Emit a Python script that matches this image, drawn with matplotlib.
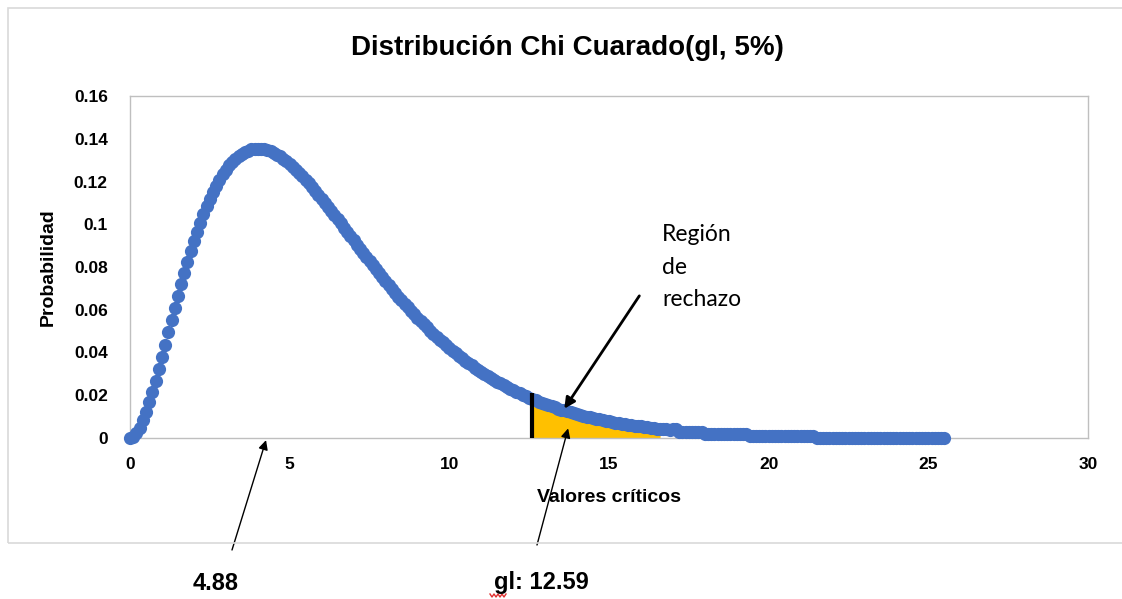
import numpy as np
import matplotlib
matplotlib.use("Agg")
import matplotlib.pyplot as plt
from matplotlib.patches import Rectangle
from matplotlib.lines import Line2D

# density, one point every 0.1 from x = 0 to x = 25.5
x_step = 0.1
prob = [
    0.0000, 0.0006, 0.0023, 0.0048, 0.0082, 0.0122, 0.0167, 0.0216, 0.0268, 0.0323,
    0.0379, 0.0436, 0.0494, 0.0551, 0.0608, 0.0664, 0.0719, 0.0772, 0.0823, 0.0873,
    0.0920, 0.0965, 0.1007, 0.1047, 0.1084, 0.1119, 0.1151, 0.1181, 0.1208, 0.1233,
    0.1255, 0.1275, 0.1292, 0.1307, 0.1320, 0.1330, 0.1339, 0.1345, 0.1350, 0.1352,
    0.1353, 0.1353, 0.1350, 0.1346, 0.1341, 0.1334, 0.1326, 0.1317, 0.1306, 0.1295,
    0.1283, 0.1269, 0.1255, 0.1240, 0.1225, 0.1209, 0.1192, 0.1175, 0.1157, 0.1139,
    0.1120, 0.1101, 0.1082, 0.1063, 0.1044, 0.1024, 0.1004, 0.0984, 0.0964, 0.0945,
    0.0925, 0.0905, 0.0885, 0.0866, 0.0846, 0.0827, 0.0808, 0.0789, 0.0770, 0.0751,
    0.0733, 0.0714, 0.0696, 0.0679, 0.0661, 0.0644, 0.0627, 0.0611, 0.0594, 0.0578,
    0.0562, 0.0547, 0.0532, 0.0517, 0.0502, 0.0488, 0.0474, 0.0460, 0.0447, 0.0434,
    0.0421, 0.0409, 0.0396, 0.0385, 0.0373, 0.0362, 0.0351, 0.0340, 0.0329, 0.0319,
    0.0309, 0.0299, 0.0290, 0.0281, 0.0272, 0.0263, 0.0255, 0.0246, 0.0238, 0.0231,
    0.0223, 0.0216, 0.0209, 0.0202, 0.0195, 0.0189, 0.0182, 0.0176, 0.0170, 0.0164,
    0.0159, 0.0153, 0.0148, 0.0143, 0.0138, 0.0133, 0.0129, 0.0124, 0.0120, 0.0116,
    0.0112, 0.0108, 0.0104, 0.0100, 0.0097, 0.0093, 0.0090, 0.0087, 0.0084, 0.0081,
    0.0078, 0.0075, 0.0072, 0.0070, 0.0067, 0.0065, 0.0062, 0.0060, 0.0058, 0.0056,
    0.0054, 0.0052, 0.0050, 0.0048, 0.0046, 0.0044, 0.0043, 0.0041, 0.0040, 0.0038,
    0.004, 0.004, 0.003, 0.003, 0.003, 0.003, 0.003, 0.003, 0.003, 0.003,
    0.002, 0.002, 0.002, 0.002, 0.002, 0.002, 0.002, 0.002, 0.002, 0.002,
    0.002, 0.002, 0.002, 0.002, 0.001, 0.001, 0.001, 0.001, 0.001, 0.001,
    0.001, 0.001, 0.001, 0.001, 0.001, 0.001, 0.001, 0.001, 0.001, 0.001,
    0.001, 0.001, 0.001, 0.001, 0.001, 0.000, 0.000, 0.000, 0.000, 0.000,
    0.000, 0.000, 0.000, 0.000, 0.000, 0.000, 0.000, 0.000, 0.000, 0.000,
    0.000, 0.000, 0.000, 0.000, 0.000, 0.000, 0.000, 0.000, 0.000, 0.000,
    0.000, 0.000, 0.000, 0.000, 0.000, 0.000, 0.000, 0.000, 0.000, 0.000,
    0.000, 0.000, 0.000, 0.000, 0.000, 0.000,
]

crit_value = 12.59       # gl: 12.59
crit_height = 0.021
shade_end = 16.6
mode_label = "4.88"
crit_label = "gl: 12.59"

x_ticks = [0, 5, 10, 15, 20, 25, 30]
y_ticks = [0, 0.02, 0.04, 0.06, 0.08, 0.1, 0.12, 0.14, 0.16]
y_tick_labels = ["0", "0.02", "0.04", "0.06", "0.08", "0.1", "0.12", "0.14", "0.16"]

BLUE = "#4472C4"
GOLD = "#FFC000"
GRID = "#BFBFBF"
SANS = ["Liberation Sans", "DejaVu Sans"]

x = np.round(np.arange(len(prob)) * x_step, 1)
y = np.array(prob)

W, H = 1122, 599
fig = plt.figure(figsize=(W / 100, H / 100), dpi=100)
ax = fig.add_axes([130 / W, 1 - 438 / H, 958 / W, 342 / H])


def fig_px(px, py):
    return (px / W, 1 - py / H)


# outer chart frame
fig.add_artist(Rectangle(fig_px(8, 543), (1135 - 8) / W, (543 - 8) / H,
                         transform=fig.transFigure, fill=False,
                         edgecolor="#D9D9D9", linewidth=1.2))

# rejection region
mask = (x >= crit_value) & (x <= shade_end)
ax.fill_between(x, 0, y, where=mask, color=GOLD, linewidth=0, zorder=2)
ax.plot(x, y, "o", color=BLUE, markersize=9.5, markeredgewidth=0, zorder=3,
        clip_on=False)
ax.vlines(crit_value, 0, crit_height, color="black", linewidth=3, zorder=4)

ax.set_xlim(0, 30)
ax.set_ylim(0, 0.16)
ax.set_xticks(x_ticks)
ax.set_yticks(y_ticks)
ax.set_yticklabels(y_tick_labels)
ax.tick_params(length=0, labelsize=12.5)
ax.tick_params(axis="y", pad=16)
ax.tick_params(axis="x", pad=14)
for lab in ax.get_xticklabels() + ax.get_yticklabels():
    lab.set_fontweight("bold")
    lab.set_family(SANS)
for side in ["left", "right", "top", "bottom"]:
    ax.spines[side].set_color(GRID)
    ax.spines[side].set_linewidth(1)

ax.set_xlabel("Valores críticos", fontsize=14, fontweight="bold",
              family=SANS, labelpad=12)
ax.set_ylabel("Probabilidad", fontsize=14, fontweight="bold",
              family=SANS, labelpad=12)

fig.text(*fig_px(567, 48), "Distribución Chi Cuarado(gl, 5%)", fontsize=20,
         fontweight="bold", family=SANS, ha="center", va="center")

fig.text(*fig_px(662, 224), "Región\nde\nrechazo", fontsize=16.5,
         family=["Lato", "DejaVu Sans"], ha="left", va="top", linespacing=1.68)

ax.annotate("", xy=(13.6, 0.0137), xytext=(15.95, 0.0665),
            arrowprops=dict(arrowstyle="-|>", color="black", lw=2,
                            mutation_scale=16, shrinkA=0, shrinkB=0))
ax.annotate("", xy=(4.26, -0.0010), xytext=fig_px(232, 550),
            textcoords="figure fraction", annotation_clip=False,
            arrowprops=dict(arrowstyle="-|>", color="black", lw=1,
                            mutation_scale=14, shrinkA=0, shrinkB=0))
ax.annotate("", xy=(13.72, 0.0045), xytext=fig_px(537, 545),
            textcoords="figure fraction", annotation_clip=False,
            arrowprops=dict(arrowstyle="-|>", color="black", lw=1,
                            mutation_scale=14, shrinkA=0, shrinkB=0))

fig.text(*fig_px(216, 583), mode_label, fontsize=17, fontweight="bold",
         family=SANS, ha="center", va="center")
fig.text(*fig_px(541, 583), crit_label, fontsize=17, fontweight="bold",
         family=SANS, ha="center", va="center")

# spell-check squiggle under "gl"
sx = [490, 492, 494, 496, 498, 500, 502, 504, 506]
sy = [594, 597, 594, 597, 594, 597, 594, 597, 594]
fig.add_artist(Line2D([v / W for v in sx], [1 - v / H for v in sy],
                      transform=fig.transFigure, color="#E03030", lw=1))

fig.savefig("out.png", dpi=100)
